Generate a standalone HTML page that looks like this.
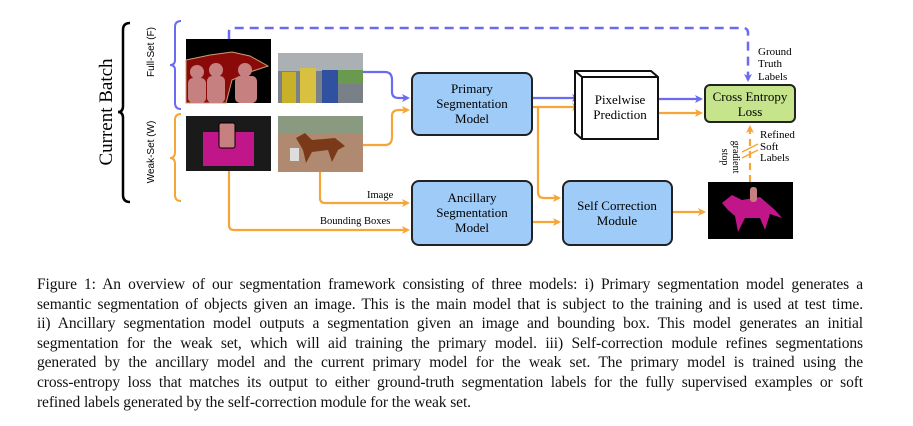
<!DOCTYPE html>
<html><head><meta charset="utf-8"><style>
body{margin:0;background:#fff;width:913px;height:426px;overflow:hidden}
.cap{position:absolute;left:37px;top:275px;width:826px;font:15.5px/19.6px "Liberation Serif",serif;color:#111;letter-spacing:-0.1px}
.cap div{text-align:justify;text-align-last:justify;white-space:nowrap}
.cap div.l{text-align-last:left}
</style></head><body>
<svg width="913" height="272" style="position:absolute;left:0;top:0" font-family="Liberation Serif, serif">
<defs>
<marker id="ab" markerWidth="8" markerHeight="8" refX="6" refY="4" orient="auto" markerUnits="userSpaceOnUse"><path d="M0,0 L8,4 L0,8 L2,4z" fill="#6a6af2"/></marker>
<marker id="ao" markerWidth="8" markerHeight="8" refX="6" refY="4" orient="auto" markerUnits="userSpaceOnUse"><path d="M0,0 L8,4 L0,8 L2,4z" fill="#f5a636"/></marker>
</defs>
<path d="M130,23 Q123,23 123,30 L123,106 Q123,112 118,112 Q123,112 123,118 L123,195 Q123,202 130,202" fill="none" stroke="#000" stroke-width="2.5"/>
<text transform="translate(112,112) rotate(-90)" text-anchor="middle" font-size="19">Current Batch</text>
<path d="M181,21 Q175,21 175,27 L175,60 Q175,65 170,65 Q175,65 175,70 L175,103 Q175,109 181,109" fill="none" stroke="#6a6af2" stroke-width="2"/>
<path d="M181,114 Q175,114 175,120 L175,152 Q175,158 170,158 Q175,158 175,164 L175,195 Q175,201 181,201" fill="none" stroke="#f5a636" stroke-width="2"/>
<text transform="translate(154,52) rotate(-90)" text-anchor="middle" font-size="10" font-family="Liberation Sans, sans-serif">Full-Set (F)</text>
<text transform="translate(154,152) rotate(-90)" text-anchor="middle" font-size="10" font-family="Liberation Sans, sans-serif">Weak-Set (W)</text>
<rect x="186" y="39" width="85" height="64" fill="#000"/>
<path d="M186,60 L210,55 L232,52 L250,56 L268,66 L250,72 L232,80 L226,103 L186,103z" fill="#8a0a0a" stroke="#c8a070" stroke-width="1"/>
<circle cx="197" cy="72" r="7" fill="#c78080"/><rect x="188" y="78" width="18" height="25" rx="5" fill="#c78080"/>
<circle cx="216" cy="70" r="7" fill="#c78080"/><rect x="207" y="76" width="18" height="27" rx="5" fill="#c78080"/>
<circle cx="245" cy="70" r="7" fill="#c78080"/><rect x="235" y="76" width="22" height="27" rx="5" fill="#c78080"/>
<rect x="278" y="53" width="85" height="50" fill="#7a8088"/>
<rect x="278" y="53" width="85" height="18" fill="#aab0b4"/>
<rect x="338" y="70" width="25" height="14" fill="#6a9a50"/>
<rect x="282" y="72" width="14" height="31" fill="#c8b028"/><rect x="300" y="68" width="16" height="35" fill="#d8c040"/><rect x="322" y="70" width="16" height="33" fill="#3050a0"/>
<rect x="186" y="116" width="85" height="55" fill="#1a1a1a"/>
<rect x="203" y="132" width="51" height="34" fill="#c0168a"/>
<rect x="219" y="123" width="16" height="25" rx="2" fill="#c78080" stroke="#000" stroke-width="1"/>
<rect x="278" y="116" width="85" height="56" fill="#b08a70"/>
<rect x="278" y="116" width="85" height="18" fill="#8a9a80"/>
<path d="M296,138 L305,133 L312,140 L335,138 L345,146 L338,150 L332,162 L328,150 L312,152 L306,163 L303,150z" fill="#7a3a1a"/>
<rect x="290" y="148" width="9" height="13" fill="#ddd"/>
<rect x="708" y="182" width="85" height="57" fill="#000"/>
<path d="M722,203 L732,195 L742,200 L760,197 L775,210 L782,218 L770,214 L765,230 L760,218 L745,218 L738,232 L735,216 L728,210z" fill="#c0168a"/>
<rect x="750" y="187" width="7" height="15" rx="3" fill="#c78080"/>
<path d="M229,39 L229,32 Q229,28 233,28 L743,28 Q748,28 748,33 L748,80" fill="none" stroke="#6a6af2" stroke-width="2.5" stroke-dasharray="9,6" marker-end="url(#ab)"/>
<g font-size="11"><text x="758" y="55">Ground</text><text x="758" y="67">Truth</text><text x="758" y="80">Labels</text>
<text x="760" y="138">Refined</text><text x="760" y="150">Soft</text><text x="760" y="161">Labels</text></g>
<text transform="translate(722,157) rotate(90)" text-anchor="middle" font-size="10">stop</text>
<text transform="translate(733,157) rotate(90)" text-anchor="middle" font-size="10">gradient</text>
<path d="M363,72 L385,72 Q392,72 392,80 L392,92 Q392,98 399,98 L408,98" fill="none" stroke="#6a6af2" stroke-width="2.2" marker-end="url(#ab)"/>
<path d="M363,145 L385,145 Q392,145 392,137 L392,116 Q392,110 399,110 L408,110" fill="none" stroke="#f5a636" stroke-width="2.2" marker-end="url(#ao)"/>
<path d="M320,172 L320,198 Q320,203 325,203 L408,203" fill="none" stroke="#f5a636" stroke-width="2.2" marker-end="url(#ao)"/>
<path d="M229,171 L229,225 Q229,230 234,230 L408,230" fill="none" stroke="#f5a636" stroke-width="2.2" marker-end="url(#ao)"/>
<text x="367" y="198" font-size="10.5">Image</text>
<text x="320" y="224" font-size="10.5">Bounding Boxes</text>
<path d="M532,98 L578,98" stroke="#6a6af2" stroke-width="2.2" marker-end="url(#ab)"/>
<path d="M532,107 L578,107" stroke="#f5a636" stroke-width="2.2" marker-end="url(#ao)"/>
<path d="M538,107 L538,192 Q538,198 544,198 L559,198" fill="none" stroke="#f5a636" stroke-width="2.2" marker-end="url(#ao)"/>
<path d="M532,222 L559,222" stroke="#f5a636" stroke-width="2.2" marker-end="url(#ao)"/>
<path d="M658,99 L701,99" stroke="#6a6af2" stroke-width="2.2" marker-end="url(#ab)"/>
<path d="M658,113 L701,113" stroke="#f5a636" stroke-width="2.2" marker-end="url(#ao)"/>
<path d="M672,212 L704,212" stroke="#f5a636" stroke-width="2.2" marker-end="url(#ao)"/>
<path d="M750,182 L750,127" stroke="#f5a636" stroke-width="2.2" stroke-dasharray="7,5" marker-end="url(#ao)"/>
<path d="M742,152 L758,144 M742,158 L758,150" stroke="#f5a636" stroke-width="1.5"/>
<rect x="412" y="73" width="120" height="62" rx="7" fill="#9ecbf7" stroke="#222" stroke-width="2"/>
<text font-size="13" text-anchor="middle"><tspan x="472" y="93">Primary</tspan><tspan x="472" y="108">Segmentation</tspan><tspan x="472" y="123">Model</tspan></text>
<rect x="412" y="181" width="120" height="64" rx="7" fill="#9ecbf7" stroke="#222" stroke-width="2"/>
<text font-size="13" text-anchor="middle"><tspan x="472" y="202">Ancillary</tspan><tspan x="472" y="217">Segmentation</tspan><tspan x="472" y="232">Model</tspan></text>
<rect x="563" y="181" width="109" height="64" rx="7" fill="#9ecbf7" stroke="#222" stroke-width="2"/>
<text font-size="13" text-anchor="middle"><tspan x="617" y="210">Self Correction</tspan><tspan x="617" y="225">Module</tspan></text>
<path d="M575,71 L651,71 L658,77 L658,139 L582,139 L575,133z" fill="#fff" stroke="#111" stroke-width="2"/>
<path d="M575,71 L582,77 L658,77 M582,77 L582,139" fill="none" stroke="#111" stroke-width="2"/>
<text font-size="13" text-anchor="middle"><tspan x="620" y="104">Pixelwise</tspan><tspan x="620" y="119">Prediction</tspan></text>
<rect x="705" y="85" width="90" height="37" rx="5" fill="#c5e48c" stroke="#222" stroke-width="2"/>
<text font-size="13" text-anchor="middle"><tspan x="750" y="101">Cross Entropy</tspan><tspan x="750" y="116">Loss</tspan></text>
</svg>
<div class="cap">
<div>Figure 1: An overview of our segmentation framework consisting of three models: i) Primary segmentation model generates a</div>
<div>semantic segmentation of objects given an image. This is the main model that is subject to the training and is used at test time.</div>
<div>ii) Ancillary segmentation model outputs a segmentation given an image and bounding box. This model generates an initial</div>
<div>segmentation for the weak set, which will aid training the primary model. iii) Self-correction module refines segmentations</div>
<div>generated by the ancillary model and the current primary model for the weak set. The primary model is trained using the</div>
<div>cross-entropy loss that matches its output to either ground-truth segmentation labels for the fully supervised examples or soft</div>
<div class="l">refined labels generated by the self-correction module for the weak set.</div>
</div>
</body></html>
